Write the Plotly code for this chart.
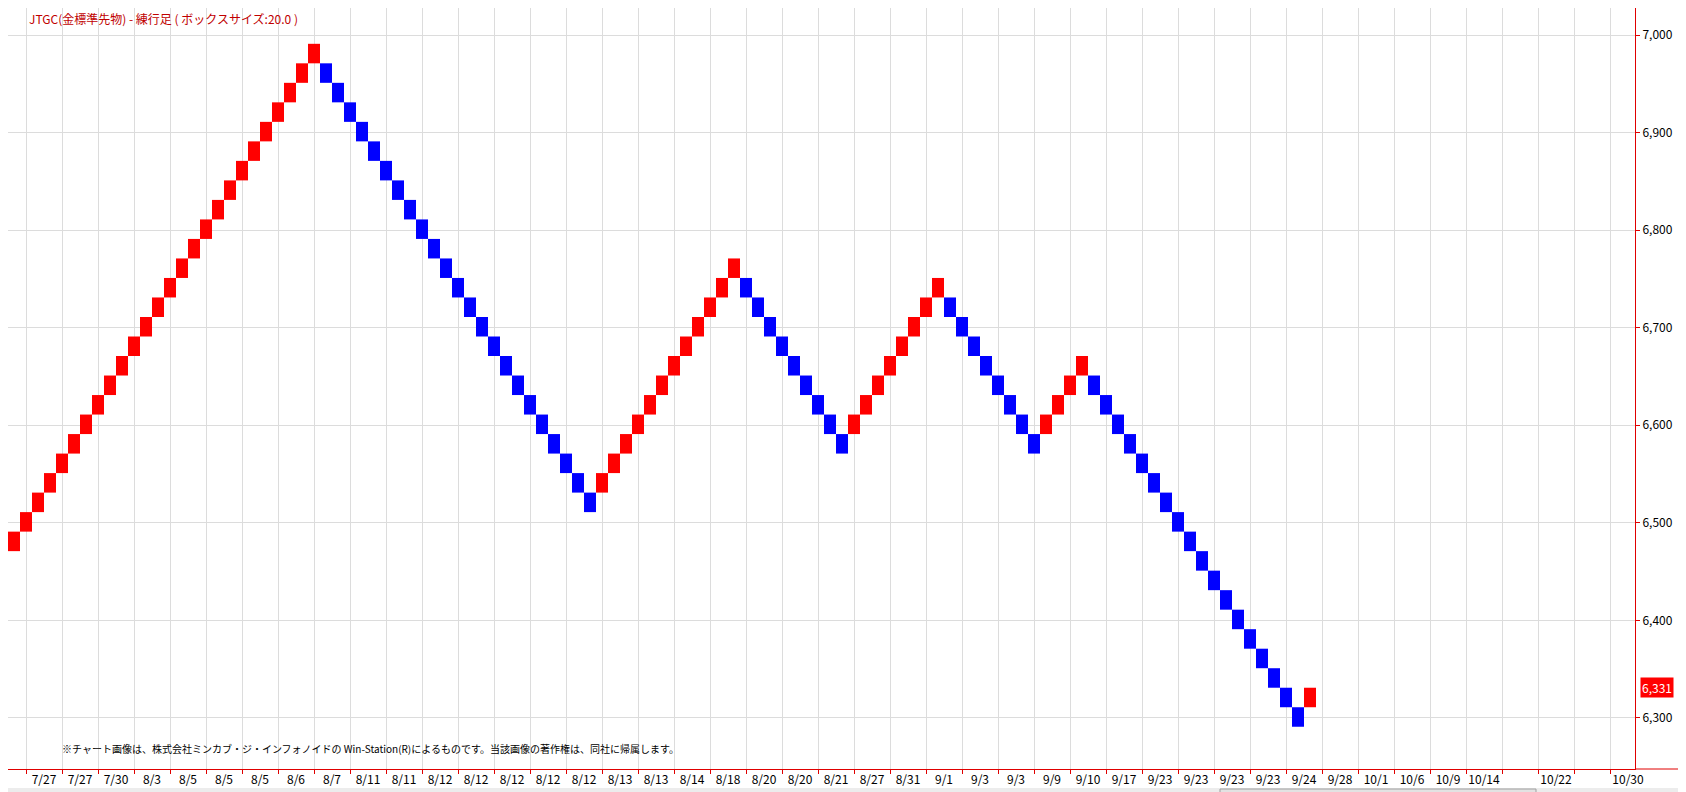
import plotly.graph_objects as go

# 練行足 (renko) – box size 20, one entry per brick: low of brick and direction
box_size = 20
brick_low = [
    # up 7/27 -> 8/6
    6471, 6491, 6511, 6531, 6551, 6571, 6591, 6611, 6631, 6651, 6671, 6691, 6711,
    6731, 6751, 6771, 6791, 6811, 6831, 6851, 6871, 6891, 6911, 6931, 6951, 6971,
    # down 8/7 -> 8/12
    6951, 6931, 6911, 6891, 6871, 6851, 6831, 6811, 6791, 6771, 6751, 6731,
    6711, 6691, 6671, 6651, 6631, 6611, 6591, 6571, 6551, 6531, 6511,
    # up 8/13 -> 8/18
    6531, 6551, 6571, 6591, 6611, 6631, 6651, 6671, 6691, 6711, 6731, 6751,
    # down 8/20 -> 8/21
    6731, 6711, 6691, 6671, 6651, 6631, 6611, 6591, 6571,
    # up 8/27 -> 9/1
    6591, 6611, 6631, 6651, 6671, 6691, 6711, 6731,
    # down 9/3 -> 9/9
    6711, 6691, 6671, 6651, 6631, 6611, 6591, 6571,
    # up 9/10
    6591, 6611, 6631, 6651,
    # down 9/10 -> 9/24
    6631, 6611, 6591, 6571, 6551, 6531, 6511, 6491, 6471, 6451, 6431, 6411,
    6391, 6371, 6351, 6331, 6311, 6291,
    # up 9/24
    6311,
]
brick_dir = list(
    "UUUUUUUUUUUUUUUUUUUUUUUUUU"
    "DDDDDDDDDDDDDDDDDDDDDDD"
    "UUUUUUUUUUUU"
    "DDDDDDDDD"
    "UUUUUUUU"
    "DDDDDDDD"
    "UUUU"
    "DDDDDDDDDDDDDDDDDD"
    "U"
)
last_price = 6331

date_labels = [
    "7/27", "7/27", "7/30", "8/3", "8/5", "8/5", "8/5", "8/6", "8/7", "8/11",
    "8/11", "8/12", "8/12", "8/12", "8/12", "8/12", "8/13", "8/13", "8/14", "8/18",
    "8/20", "8/20", "8/21", "8/27", "8/31", "9/1", "9/3", "9/3", "9/9", "9/10",
    "9/17", "9/23", "9/23", "9/23", "9/23", "9/24", "9/28", "10/1", "10/6", "10/9",
    "10/14", "", "10/22", "", "10/30",
]

W, H = 1686, 792
plot_right = 1627   # px, y axis line
plot_bottom = 761   # px, x axis line
brick_px = 12
font_jp = "Noto Sans CJK JP"

up_x = [i + 0.5 for i, d in enumerate(brick_dir) if d == "U"]
up_low = [brick_low[i] for i, d in enumerate(brick_dir) if d == "U"]
dn_x = [i + 0.5 for i, d in enumerate(brick_dir) if d == "D"]
dn_low = [brick_low[i] for i, d in enumerate(brick_dir) if d == "D"]

fig = go.Figure()
fig.add_trace(go.Bar(x=up_x, y=[box_size] * len(up_x), base=up_low, width=1,
                     marker=dict(color="#ff0000", line=dict(width=0)),
                     hoverinfo="skip", showlegend=False))
fig.add_trace(go.Bar(x=dn_x, y=[box_size] * len(dn_x), base=dn_low, width=1,
                     marker=dict(color="#0000ff", line=dict(width=0)),
                     hoverinfo="skip", showlegend=False))

n_slots = len(date_labels)
grid_vals = [1.5 + 3 * k for k in range(n_slots)]
label_vals = [3 + 3 * k for k in range(n_slots)]

fig.update_layout(
    width=W, height=H,
    margin=dict(l=0, r=W - plot_right, t=0, b=H - plot_bottom),
    paper_bgcolor="white", plot_bgcolor="white",
    barmode="overlay",
    font=dict(family=font_jp, size=12, color="black"),
    xaxis=dict(range=[0, plot_right / brick_px], tickmode="array",
               tickvals=label_vals, ticktext=date_labels, ticks="",
               showgrid=False, zeroline=False, showline=True,
               linecolor="#e00000", linewidth=1,
               tickfont=dict(size=12, color="black"),
               minor=dict(tickmode="array", tickvals=grid_vals, showgrid=True,
                          gridcolor="#dcdcdc", gridwidth=1, ticks="outside",
                          ticklen=4, tickcolor="#e00000", tickwidth=1)),
    yaxis=dict(range=[6247.7, 7027.7], side="right", tickmode="linear",
               tick0=6300, dtick=100, tickformat=",d", showgrid=True,
               gridcolor="#dcdcdc", gridwidth=1, zeroline=False, showline=True,
               linecolor="#e00000", linewidth=1, ticks="outside", ticklen=4,
               tickcolor="#e00000", tickfont=dict(size=12, color="black")),
)

# title, top left
fig.add_annotation(x=19 / plot_right, xref="paper", y=1 - 11 / plot_bottom, yref="paper",
                   xanchor="left", yanchor="middle", showarrow=False,
                   text="JTGC(金標準先物) - 練行足 ( ボックスサイズ:20.0 )",
                   font=dict(family=font_jp, size=12, color="#c00000"))

# x axis line continues under the price scale
fig.add_shape(type="line", xref="paper", yref="paper", x0=1, x1=W / plot_right,
              y0=0, y1=0, line=dict(color="#e00000", width=1))

# scroll bar strip at the bottom
fig.add_shape(type="rect", xref="paper", yref="paper", x0=0, x1=W / plot_right,
              y0=-(780 - plot_bottom) / plot_bottom, y1=-(H - plot_bottom) / plot_bottom,
              fillcolor="#ececec", line=dict(width=0), layer="below")
fig.add_shape(type="rect", xref="paper", yref="paper",
              x0=1212 / plot_right, x1=1528 / plot_right,
              y0=-(781 - plot_bottom) / plot_bottom, y1=-(790 - plot_bottom) / plot_bottom,
              fillcolor="#e2e2e2", line=dict(color="#a0a0a0", width=1))

# last price tag
fig.add_annotation(x=1, xref="paper", y=last_price, yref="y", xanchor="left",
                   xshift=5, text=f"{last_price:,}", showarrow=False,
                   bgcolor="#ff0000", borderpad=1,
                   font=dict(family=font_jp, size=12, color="white"))

# copyright note
fig.add_annotation(x=52 / plot_right, xref="paper", y=(plot_bottom - 740) / plot_bottom,
                   yref="paper", xanchor="left", yanchor="middle", showarrow=False,
                   text="※チャート画像は、株式会社ミンカブ・ジ・インフォノイドの Win-Station(R)によるものです。当該画像の著作権は、同社に帰属します。",
                   font=dict(family=font_jp, size=10, color="black"))

fig.write_html("out.html")
